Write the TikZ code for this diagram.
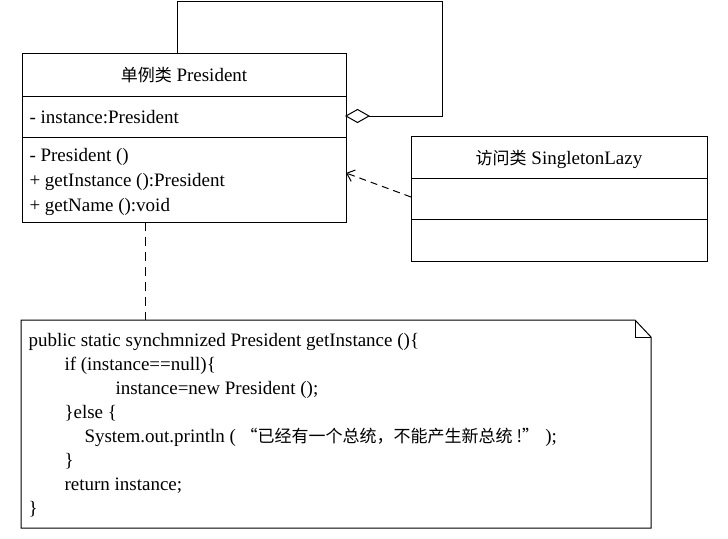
\documentclass[tikz,border=0pt]{standalone}
\usepackage{fontspec}
\setmainfont{Liberation Serif}
\newfontfamily\cjk{Noto Sans CJK SC}
\usetikzlibrary{arrows.meta}
\begin{document}
\begin{tikzpicture}[x=1pt,y=-1pt,line width=1pt,
  txt/.style={anchor=base west,inner sep=0pt,font=\fontsize{19}{22}\selectfont},
  ttl/.style={anchor=base,inner sep=0pt,font=\fontsize{19}{22}\selectfont}]
\useasboundingbox (0,0) rectangle (728,538);
% President class
\draw (22,53) rectangle (346,222);
\draw (22,96) -- (346,96);
\draw (22,137) -- (346,137);
\node[ttl] (pt) at (184,81) {{\cjk\fontsize{17}{20}\selectfont 单例类} President};
\node[txt] (pa) at (29,123) {- instance:President};
\node[txt] (pm1) at (29,161) {- President ()};
\node[txt] (pm2) at (29,186) {+ getInstance ():President};
\node[txt] (pm3) at (29,211) {+ getName ():void};
\coordinate (pres) at (346,116);
% self aggregation
\coordinate (l1) at (177,53);
\draw (l1) -- (177,1) -- (442,1) -- (442,116) -- (369,116);
\draw[fill=white] (pres) -- (357.5,109.5) -- (369,116) -- (357.5,122.5) -- cycle;
% SingletonLazy
\draw (411,136) rectangle (707,261);
\draw (411,178) -- (707,178);
\draw (411,219) -- (707,219);
\node[ttl] (st) at (559,164) {{\cjk\fontsize{17}{20}\selectfont 访问类} SingletonLazy};
\coordinate (sl) at (411,197);
\coordinate (pd) at (346,173);
\draw[dash pattern=on 7pt off 5pt,-{Straight Barb[length=7pt,width=12pt]}] (sl) -- (pd);
% note
\coordinate (na) at (145,222);
\coordinate (nb) at (145,320);
\draw[dash pattern=on 9pt off 6pt] (na) -- (nb);
\draw (21,320) -- (635,320) -- (651,337) -- (651,528) -- (21,528) -- cycle;
\draw (635,320) -- (635,337) -- (651,337);
\node[txt] (c1) at (28,346) {public static synchmnized President getInstance ()\{};
\node[txt] (c2) at (64,370) {if (instance==null)\{};
\node[txt] (c3) at (115,394) {instance=new President ();};
\node[txt] (c4) at (64,418) {\}else \{};
\node[txt] (c5) at (84,442) {System.out.println ( {\cjk\fontsize{17}{20}\selectfont “已经有一个总统，不能产生新总统 !”} );};
\node[txt] (c6) at (64,466) {\}};
\node[txt] (c7) at (64,490) {return instance;};
\node[txt] (c8) at (28,514) {\}};
\end{tikzpicture}
\end{document}
